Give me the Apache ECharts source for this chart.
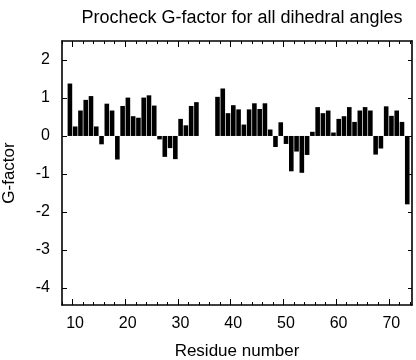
<!DOCTYPE html>
<html>
<head>
<meta charset="utf-8">
<script src="https://cdn.jsdelivr.net/npm/echarts@6/dist/echarts.min.js"></script>
<style>
html,body{margin:0;padding:0;background:#fff;}
#chart{width:416px;height:360px;}
</style>
</head>
<body>
<div id="chart"></div>
<script>
// Residue numbers (each bar spans residue r .. r+1 on the axis)
const residues = [9,10,11,12,13,14,15,16,17,18,19,20,21,22,23,24,25,26,27,28,29,30,31,32,33,34,35,36,37,38,39,40,41,42,43,44,45,46,47,48,49,50,51,52,53,54,55,56,57,58,59,60,61,62,63,64,65,66,67,68,69,70,71,72,73];
// Procheck G-factor per residue (null = no value)
const gFactor = [1.38,0.25,0.67,0.95,1.05,0.25,-0.22,0.85,0.67,-0.62,0.79,1.01,0.52,0.48,1.01,1.07,0.80,-0.09,-0.55,-0.32,-0.61,0.45,0.28,0.79,0.89,null,null,null,1.03,1.25,0.60,0.81,0.70,0.30,0.70,0.86,0.71,0.86,0.17,-0.29,0.36,-0.21,-0.93,-0.41,-0.97,-0.50,0.11,0.76,0.60,0.67,0.09,0.45,0.52,0.76,0.37,0.67,0.76,0.67,-0.49,-0.33,0.78,0.53,0.67,0.37,-1.80];
// Tick labels
const xTickLabels = ['10','20','30','40','50','60','70'];
const yTickLabels = ['-4','-3','-2','-1','0','1','2'];

const X_MIN = 8, X_MAX = 74.4, Y_MIN = -4.45, Y_MAX = 2.5;

// category scaffolding for frame ticks (step 0.2 on x, 0.05 on y)
const xCats = [];
for (let k = 0; k <= Math.round((X_MAX - X_MIN) / 0.2); k++) xCats.push(((Math.round(X_MIN * 10) + 2 * k) / 10).toString());
const yCats = [];
for (let k = 0; k <= Math.round((Y_MAX - Y_MIN) / 0.05); k++) yCats.push(((Math.round(Y_MIN * 100) + 5 * k) / 100).toString());

const isMinorX = (i, v) => (Math.round(parseFloat(v) * 10) % 20 === 0);
const isMajorX = (i, v) => xTickLabels.indexOf(v) >= 0;
const isMajorY = (i, v) => yTickLabels.indexOf(v) >= 0;

const FONT = 'Liberation Sans';
const black = '#000';

function catX(position, opts) {
  return Object.assign({
    type: 'category', position: position, data: xCats, boundaryGap: false,
    axisLine: { show: false },
    axisTick: { show: false },
    axisLabel: { show: false },
    splitLine: { show: false }
  }, opts);
}
function catY(position, opts) {
  return Object.assign({
    type: 'category', position: position, data: yCats, boundaryGap: false,
    axisLine: { show: false },
    axisTick: { show: false },
    axisLabel: { show: false },
    splitLine: { show: false }
  }, opts);
}

const chart = echarts.init(document.getElementById('chart'), null, { renderer: 'canvas' });
chart.setOption({
  animation: false,
  backgroundColor: '#fff',
  title: {
    text: 'Procheck G-factor for all dihedral angles',
    left: 237, top: 4, textAlign: 'center',
    textStyle: { fontFamily: FONT, fontSize: 18, fontWeight: 'normal', color: black }
  },
  grid: { left: 62, right: 4, top: 41, bottom: 55, containLabel: false, outerBoundsMode: 'none' },
  xAxis: [
    { type: 'value', min: X_MIN - 0.5, max: X_MAX - 0.5, show: false },
    catX('bottom', {
      axisLine: { show: true, lineStyle: { color: black, width: 1.6 } },
      axisTick: { show: true, inside: true, length: 3, interval: isMinorX, lineStyle: { color: black, width: 1 } },
      axisLabel: { show: true, interval: isMajorX, margin: 11, padding: [0, 0, 0, 5], fontFamily: FONT, fontSize: 16, color: black },
      name: 'Residue number', nameLocation: 'middle', nameGap: 38,
      nameTextStyle: { fontFamily: FONT, fontSize: 17, color: black }
    }),
    catX('bottom', {
      axisTick: { show: true, inside: true, length: 6, interval: isMajorX, lineStyle: { color: black, width: 1 } }
    }),
    catX('top', {
      axisLine: { show: true, lineStyle: { color: black, width: 1.6 } },
      axisTick: { show: true, inside: true, length: 3, interval: isMinorX, lineStyle: { color: black, width: 1 } }
    }),
    catX('top', {
      axisTick: { show: true, inside: true, length: 6, interval: isMajorX, lineStyle: { color: black, width: 1 } }
    })
  ],
  yAxis: [
    { type: 'value', min: Y_MIN, max: Y_MAX, show: false },
    catY('left', {
      axisLine: { show: true, lineStyle: { color: black, width: 1.6 } },
      axisTick: { show: true, inside: true, length: 5, interval: isMajorY, lineStyle: { color: black, width: 1 } },
      axisLabel: { show: true, interval: isMajorY, margin: 12, fontFamily: FONT, fontSize: 16, color: black },
      name: 'G-factor', nameLocation: 'middle', nameGap: 44, nameRotate: 90,
      nameTextStyle: { fontFamily: FONT, fontSize: 17, color: black }
    }),
    catY('right', {
      axisLine: { show: true, lineStyle: { color: black, width: 1.6 } },
      axisTick: { show: true, inside: true, length: 4, interval: isMajorY, lineStyle: { color: black, width: 1 } }
    })
  ],
  series: [{
    type: 'bar',
    xAxisIndex: 0, yAxisIndex: 0,
    data: residues.map((r, i) => [r, gFactor[i]]),
    barWidth: 4.6,
    itemStyle: { color: black },
    silent: true
  }]
});
</script>
</body>
</html>
